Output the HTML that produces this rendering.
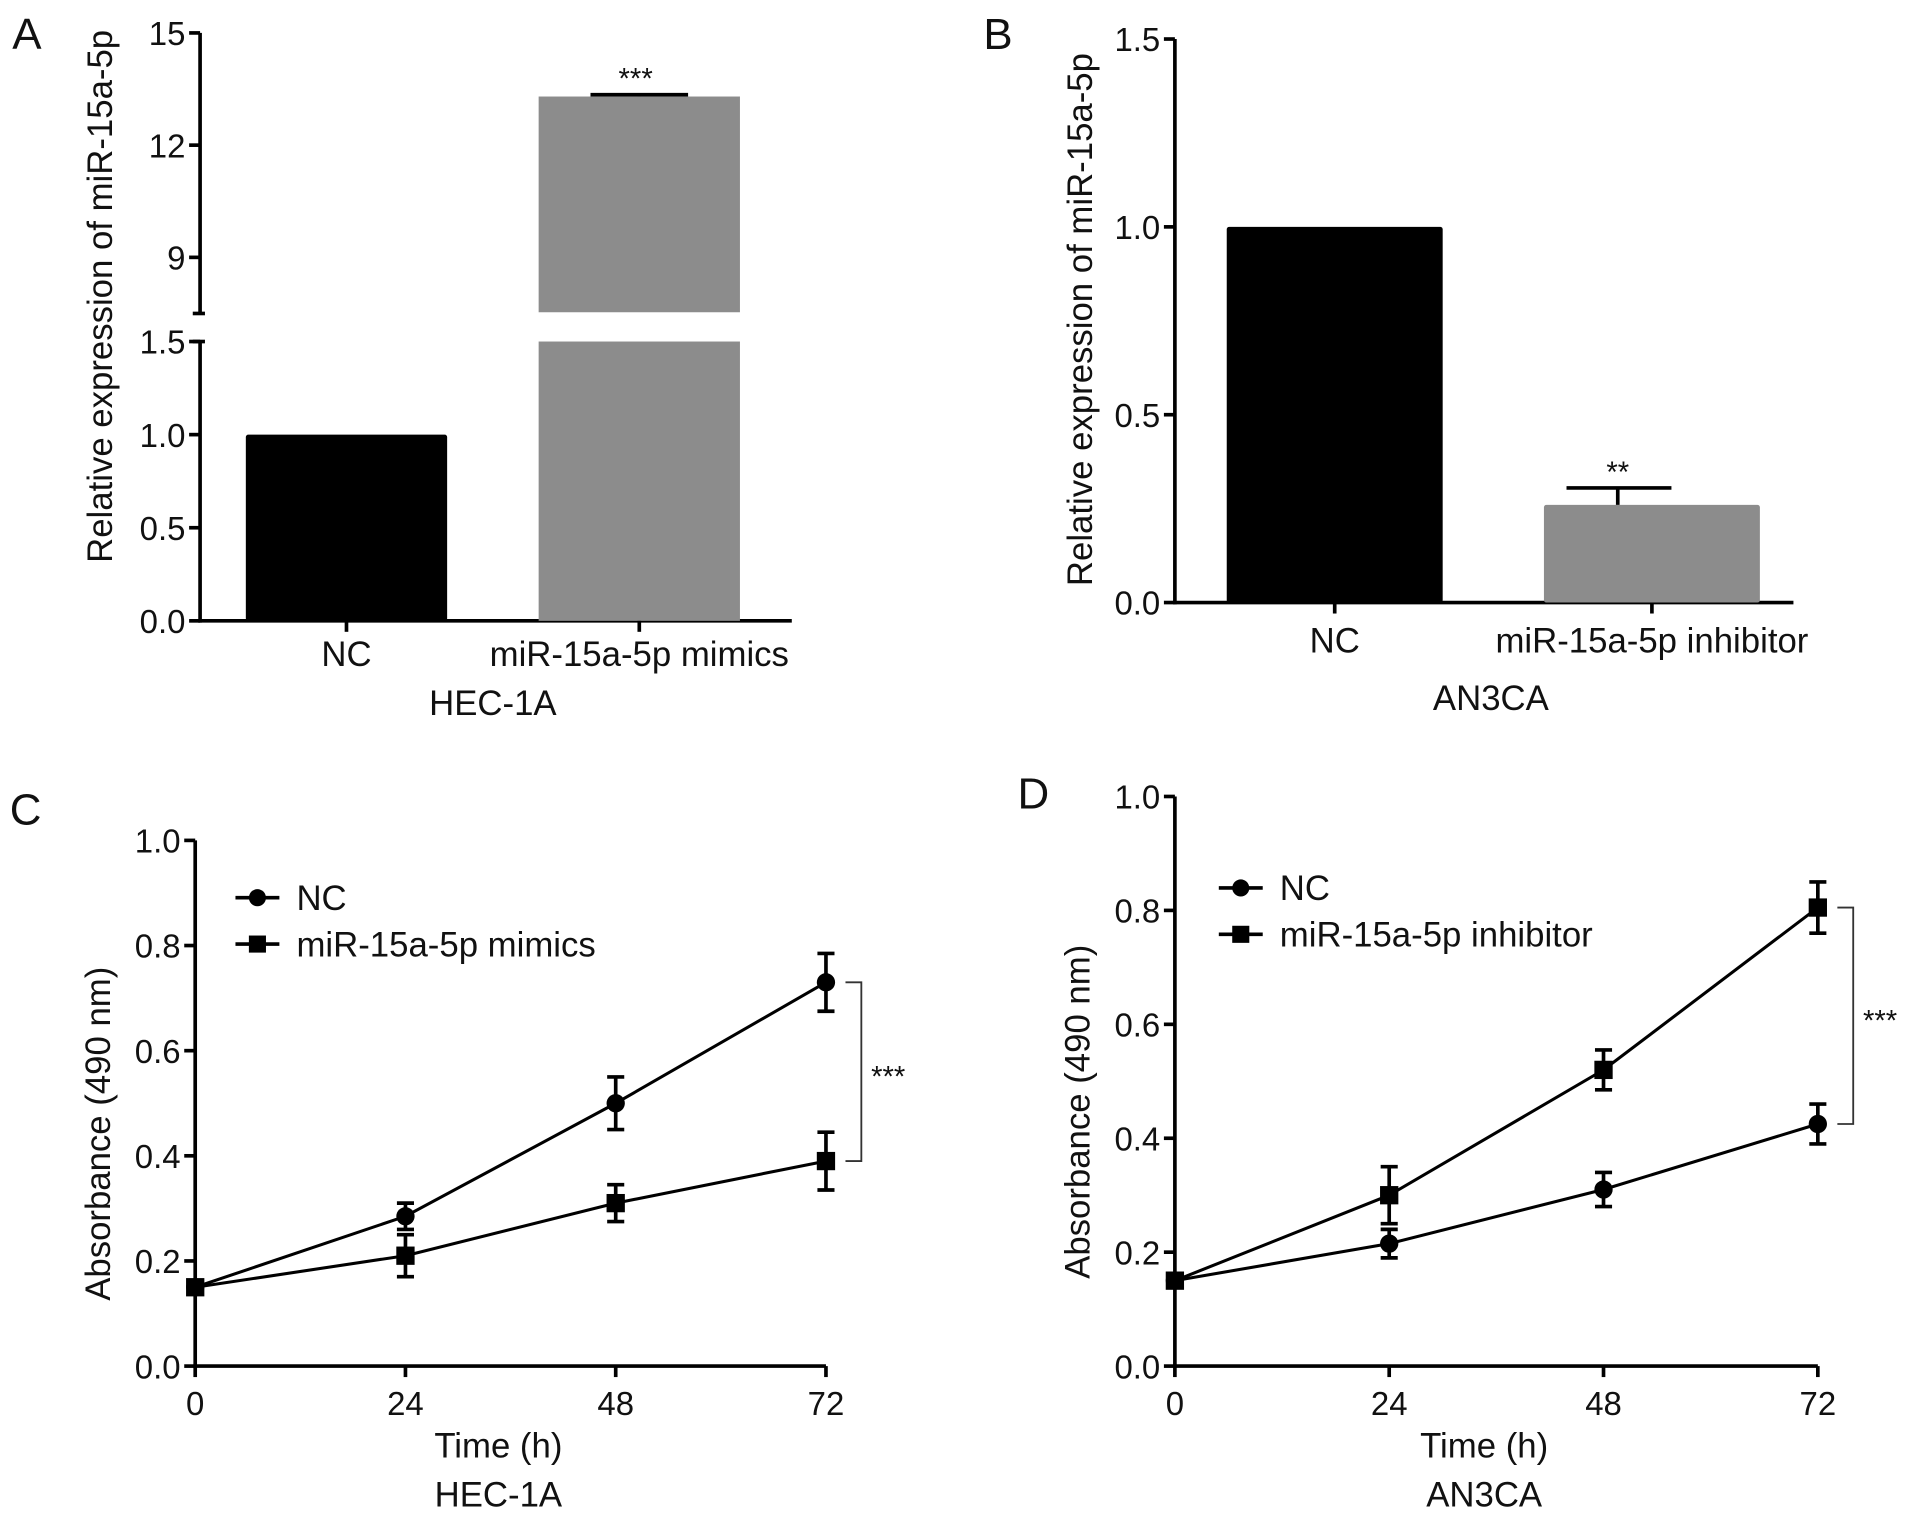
<!DOCTYPE html>
<html><head><meta charset="utf-8"><style>
html,body{margin:0;padding:0;background:#fff;}
svg{display:block;font-family:"Liberation Sans",Arial,sans-serif;}
</style></head><body>
<svg id="fig" width="1913" height="1521" viewBox="0 0 1568 1247" preserveAspectRatio="none" xmlns="http://www.w3.org/2000/svg"></svg>
<script>
// Panel A data
const aCategories = ["NC", "miR-15a-5p mimics"];
const aValues = [1.0, 13.3];
const aErrors = [0, 0.05];
const aLowerTicks = [0.0, 0.5, 1.0, 1.5];
const aUpperTicks = [9, 12, 15];
// Panel B data
const bCategories = ["NC", "miR-15a-5p inhibitor"];
const bValues = [1.0, 0.26];
const bErrors = [0, 0.045];
const bTicks = [0.0, 0.5, 1.0, 1.5];
// Panel C data
const timePoints = [0, 24, 48, 72];
const cNC = [0.15, 0.285, 0.50, 0.73];
const cNCerr = [0.01, 0.025, 0.05, 0.055];
const cMimics = [0.15, 0.21, 0.31, 0.39];
const cMimicsErr = [0.01, 0.04, 0.035, 0.055];
// Panel D data
const dNC = [0.15, 0.215, 0.31, 0.425];
const dNCerr = [0.01, 0.025, 0.03, 0.035];
const dInhib = [0.15, 0.30, 0.52, 0.805];
const dInhibErr = [0.01, 0.05, 0.035, 0.045];
const lineTicks = [0.0, 0.2, 0.4, 0.6, 0.8, 1.0];

const NS = "http://www.w3.org/2000/svg";
const svg = document.getElementById("fig");
const FS = 27, TFS = 28.5;
function el(tag, attrs, parent) {
  const e = document.createElementNS(NS, tag);
  for (const k in attrs) e.setAttribute(k, attrs[k]);
  (parent || svg).appendChild(e);
  return e;
}
function txt(s, x, y, size, anchor, parent, rot) {
  const t = el("text", {x: x, y: y, "font-size": size, "text-anchor": anchor || "middle", fill: "#111"}, parent);
  if (rot) t.setAttribute("transform", "rotate(-90 " + x + " " + y + ")");
  t.textContent = s;
  return t;
}
function fmt(v){ return Number.isInteger(v) && v > 2 ? String(v) : v.toFixed(1); }

// ---------- Panel A ----------
(function(){
  const g = el("g", {});
  
  
  const ax = 164, lowY0 = 509, lowY1 = 280, upY0 = 257, upY1 = 27;
  const yLow = v => lowY0 - (v - 0) / 1.5 * (lowY0 - lowY1);
  const upMin = 7.5;
  const yUp = v => upY0 - (v - upMin) / (15 - upMin) * (upY0 - upY1);
  const lab = txt("A", 10, 40, 36, "start", g);
  
  
  el("line", {x1: ax, y1: upY1, x2: ax, y2: upY0, stroke: "#000", "stroke-width": 3}, g);
  el("line", {x1: ax, y1: lowY1, x2: ax, y2: lowY0 + 1.5, stroke: "#000", "stroke-width": 3}, g);
  el("line", {x1: ax - 1.5, y1: lowY0, x2: 649, y2: lowY0, stroke: "#000", "stroke-width": 3}, g);
  el("line", {x1: ax - 6, y1: upY0, x2: ax + 4, y2: upY0, stroke: "#000", "stroke-width": 3}, g);
  el("line", {x1: ax - 6, y1: lowY1, x2: ax + 4, y2: lowY1, stroke: "#000", "stroke-width": 3}, g);
  aLowerTicks.forEach(v => {
    el("line", {x1: ax - 9, y1: yLow(v), x2: ax, y2: yLow(v), stroke: "#000", "stroke-width": 3}, g);
    const t = txt(fmt(v), ax - 12, yLow(v) + 10, FS, "end", g);
    
    
  });
  aUpperTicks.forEach(v => {
    el("line", {x1: ax - 9, y1: yUp(v), x2: ax, y2: yUp(v), stroke: "#000", "stroke-width": 3}, g);
    const t = txt(String(v), ax - 12, yUp(v) + 10, FS, "end", g);
    
    
  });
  const centers = [284, 524], bw = 165, colors = ["#000", "#8c8c8c"];
  aCategories.forEach((c, i) => {
    const v = aValues[i], x = centers[i] - bw / 2;
    if (v <= 1.5) {
      const r = el("rect", {x: x, y: yLow(v), width: bw, height: lowY0 - yLow(v), fill: colors[i], rx: 2}, g);
      
      
    } else {
      const r1 = el("rect", {x: x, y: lowY1, width: bw, height: lowY0 - lowY1, fill: colors[i]}, g);
      
      
      const r2 = el("rect", {x: x, y: yUp(v), width: bw, height: upY0 - 1 - yUp(v), fill: colors[i]}, g);
      
      
      const ey = yUp(v + aErrors[i]);
      el("line", {x1: centers[i], y1: yUp(v), x2: centers[i], y2: ey, stroke: "#000", "stroke-width": 3}, g);
      el("line", {x1: centers[i] - 40, y1: ey, x2: centers[i] + 40, y2: ey, stroke: "#000", "stroke-width": 3}, g);
      const s = txt("***", centers[i] - 3, ey - 5, 24, "middle", g);
      
      
    }
    el("line", {x1: centers[i], y1: lowY0, x2: centers[i], y2: lowY0 + 9, stroke: "#000", "stroke-width": 3}, g);
    const t = txt(c, centers[i], 546, TFS, "middle", g);
    
    
  });
  const xt = txt("HEC-1A", 404, 586, TFS, "middle", g);
  
  
  const yt = txt("Relative expression of miR-15a-5p", 92, 243, TFS, "middle", g, true);
  
  
})();

// ---------- Panel B ----------
(function(){
  const g = el("g", {});
  
  
  const ax = 963, y0 = 494, y1 = 32;
  const y = v => y0 - v / 1.5 * (y0 - y1);
  const lab = txt("B", 806, 40, 36, "start", g);
  
  
  el("line", {x1: ax, y1: y1, x2: ax, y2: y0 + 1.5, stroke: "#000", "stroke-width": 3}, g);
  el("line", {x1: ax - 1.5, y1: y0, x2: 1470, y2: y0, stroke: "#000", "stroke-width": 3}, g);
  bTicks.forEach(v => {
    el("line", {x1: ax - 9, y1: y(v), x2: ax, y2: y(v), stroke: "#000", "stroke-width": 3}, g);
    const t = txt(v.toFixed(1), ax - 12, y(v) + 10, FS, "end", g);
    
    
  });
  const centers = [1094, 1354], bw = 177, colors = ["#000", "#8c8c8c"];
  bCategories.forEach((c, i) => {
    const v = bValues[i];
    const r = el("rect", {x: centers[i] - bw / 2, y: y(v), width: bw, height: y0 - y(v), fill: colors[i], rx: 2}, g);
    
    
    if (bErrors[i] > 0) {
      const ey = y(v + bErrors[i]);
      el("line", {x1: centers[i] - 28, y1: y(v), x2: centers[i] - 28, y2: ey, stroke: "#000", "stroke-width": 3}, g);
      el("line", {x1: centers[i] - 70, y1: ey, x2: centers[i] + 16, y2: ey, stroke: "#000", "stroke-width": 3}, g);
      const s = txt("**", centers[i] - 28, ey - 5, 24, "middle", g);
      
      
    }
    el("line", {x1: centers[i], y1: y0, x2: centers[i], y2: y0 + 9, stroke: "#000", "stroke-width": 3}, g);
    const t = txt(c, centers[i], 535, TFS, "middle", g);
    
    
  });
  const xt = txt("AN3CA", 1222, 582, TFS, "middle", g);
  
  
  const yt = txt("Relative expression of miR-15a-5p", 895, 262, TFS, "middle", g, true);
  
  
})();

// ---------- Line panels ----------
function linePanel(cfg) {
  const g = el("g", {});
  
  
  const {ax, xEnd, y0, y1} = cfg;
  const x = t => ax + t / 72 * (xEnd - ax);
  const y = v => y0 - v * (y0 - y1);
  const lab = txt(cfg.letter, cfg.lx, cfg.ly, 36, "start", g);
  
  
  el("line", {x1: ax, y1: y1, x2: ax, y2: y0 + 1.5, stroke: "#000", "stroke-width": 3}, g);
  el("line", {x1: ax - 1.5, y1: y0, x2: xEnd, y2: y0, stroke: "#000", "stroke-width": 3}, g);
  lineTicks.forEach(v => {
    el("line", {x1: ax - 9, y1: y(v), x2: ax, y2: y(v), stroke: "#000", "stroke-width": 3}, g);
    const t = txt(v.toFixed(1), ax - 12, y(v) + 10, FS, "end", g);
    
    
  });
  timePoints.forEach(t0 => {
    el("line", {x1: x(t0), y1: y0, x2: x(t0), y2: y0 + 9, stroke: "#000", "stroke-width": 3}, g);
    const t = txt(String(t0), x(t0), y0 + 40, FS, "middle", g);
    
    
  });
  cfg.series.forEach(s => {
    const pts = timePoints.map((t, i) => x(t) + "," + y(s.vals[i])).join(" ");
    const pl = el("polyline", {points: pts, fill: "none", stroke: "#000", "stroke-width": 2.5}, g);
    
    
    timePoints.forEach((t, i) => {
      const cx = x(t), cy = y(s.vals[i]), e = s.errs[i];
      if (i > 0) {
        el("line", {x1: cx, y1: y(s.vals[i] + e), x2: cx, y2: y(s.vals[i] - e), stroke: "#000", "stroke-width": 3}, g);
        el("line", {x1: cx - 7, y1: y(s.vals[i] + e), x2: cx + 7, y2: y(s.vals[i] + e), stroke: "#000", "stroke-width": 3}, g);
        el("line", {x1: cx - 7, y1: y(s.vals[i] - e), x2: cx + 7, y2: y(s.vals[i] - e), stroke: "#000", "stroke-width": 3}, g);
      }
      const m = s.shape === "circle"
        ? el("circle", {cx: cx, cy: cy, r: 7.5, fill: "#000"}, g)
        : el("rect", {x: cx - 7.5, y: cy - 7.5, width: 15, height: 15, fill: "#000"}, g);
      
      
    });
  });
  cfg.series.forEach((s, i) => {
    const ly = cfg.legY + i * 38;
    el("line", {x1: cfg.legX, y1: ly, x2: cfg.legX + 36, y2: ly, stroke: "#000", "stroke-width": 3}, g);
    const m = s.shape === "circle"
      ? el("circle", {cx: cfg.legX + 18, cy: ly, r: 7, fill: "#000"}, g)
      : el("rect", {x: cfg.legX + 11, y: ly - 7, width: 14, height: 14, fill: "#000"}, g);
    
    
    const t = txt(s.label, cfg.legX + 50, ly + 10, TFS, "start", g);
    
    
  });
  const a = y(cfg.series[0].vals[3]), b = y(cfg.series[1].vals[3]);
  const bx = x(72);
  el("polyline", {points: (bx + 16) + "," + a + " " + (bx + 29) + "," + a + " " + (bx + 29) + "," + b + " " + (bx + 16) + "," + b, fill: "none", stroke: "#333", "stroke-width": 1.5}, g);
  const st = txt("***", bx + 37, (a + b) / 2 + 12, 24, "start", g);
  
  
  const xt = txt("Time (h)", (ax + xEnd) / 2 - 10, y0 + 75, TFS, "middle", g);
  
  
  const ct = txt(cfg.cell, (ax + xEnd) / 2 - 10, y0 + 115, TFS, "middle", g);
  
  
  const yt = txt("Absorbance (490 nm)", cfg.ytx, (y0 + y1) / 2 + 25, TFS, "middle", g, true);
  
  
}
linePanel({name: "panel-c", letter: "C", lx: 8, ly: 676, ax: 160, xEnd: 677, y0: 1120, y1: 689, legX: 193, legY: 736, cell: "HEC-1A", ytx: 90,
  series: [{key: "nc", label: "NC", shape: "circle", vals: cNC, errs: cNCerr},
           {key: "mimics", label: "miR-15a-5p mimics", shape: "square", vals: cMimics, errs: cMimicsErr}]});
linePanel({name: "panel-d", letter: "D", lx: 834, ly: 663, ax: 963, xEnd: 1490, y0: 1120, y1: 653, legX: 999, legY: 728, cell: "AN3CA", ytx: 893,
  series: [{key: "nc", label: "NC", shape: "circle", vals: dNC, errs: dNCerr},
           {key: "inhibitor", label: "miR-15a-5p inhibitor", shape: "square", vals: dInhib, errs: dInhibErr}]});
</script>
</body></html>
